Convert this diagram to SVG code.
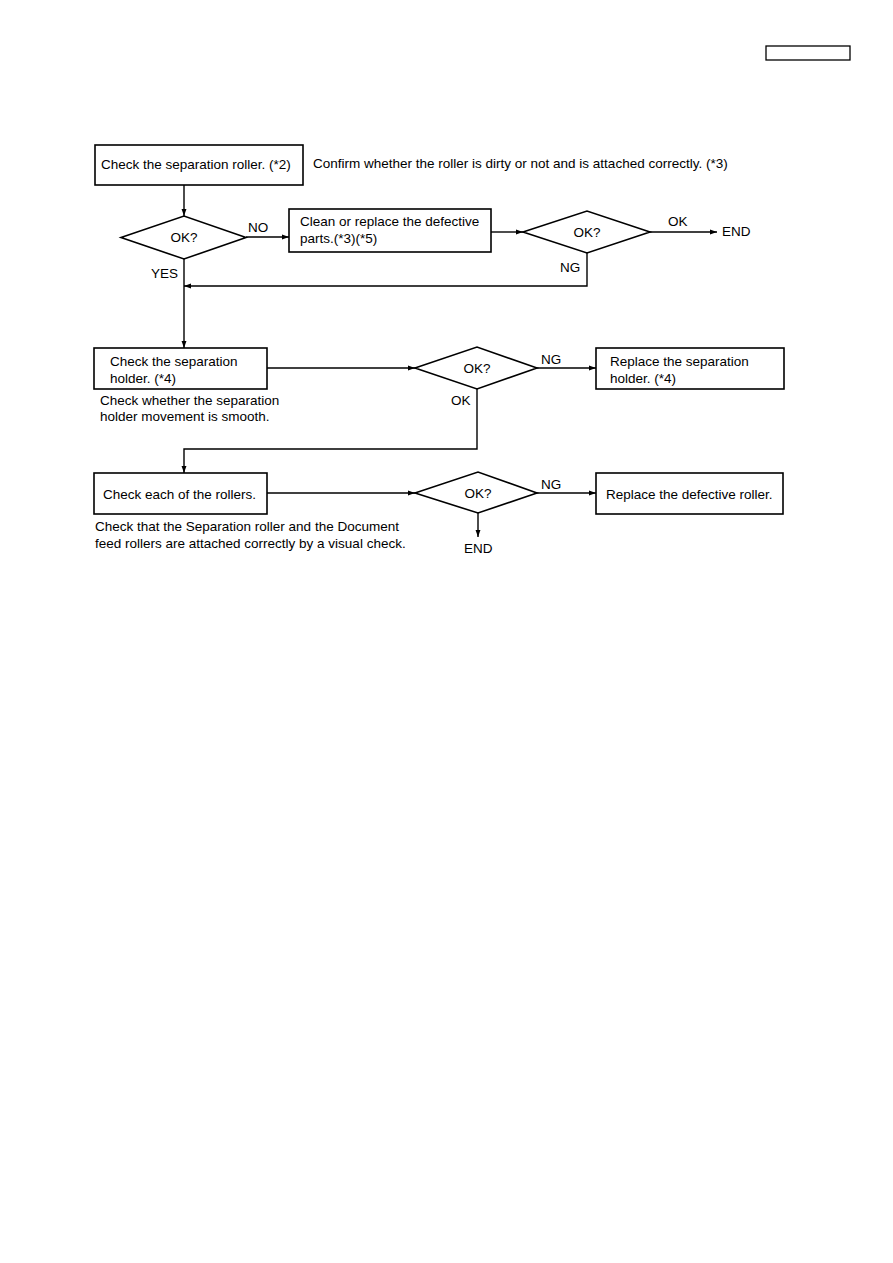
<svg xmlns="http://www.w3.org/2000/svg" width="893" height="1263" viewBox="0 0 893 1263">
<defs>
<style>
.box{fill:#fff;stroke:#000;stroke-width:1.6}
.dia{fill:#fff;stroke:#000;stroke-width:1.6}
.ln{fill:none;stroke:#000;stroke-width:1.4}
text{font-family:"Liberation Sans",Arial,sans-serif;font-size:13.5px;fill:#000}
</style>
<marker id="ah" viewBox="0 0 10 10" refX="10" refY="5" markerWidth="7" markerHeight="7" markerUnits="userSpaceOnUse" orient="auto">
<path d="M0,1.5 L10,5 L0,8.5 Z" fill="#000"/>
</marker>
</defs>
<rect width="893" height="1263" fill="#fff"/>
<rect x="766" y="46" width="84" height="14" fill="none" stroke="#000" stroke-width="1.3"/>

<g id="connectors">
<path class="ln" d="M184,185 V216" marker-end="url(#ah)"/>
<path class="ln" d="M246,237 H289" marker-end="url(#ah)"/>
<path class="ln" d="M491,232 H523" marker-end="url(#ah)"/>
<path class="ln" d="M650,232 H717" marker-end="url(#ah)"/>
<path class="ln" d="M587,253 V286 H184" marker-end="url(#ah)"/>
<path class="ln" d="M184,259 V348" marker-end="url(#ah)"/>
<path class="ln" d="M267,368 H415" marker-end="url(#ah)"/>
<path class="ln" d="M537,368 H596" marker-end="url(#ah)"/>
<path class="ln" d="M477,389 V449 H184 V473" marker-end="url(#ah)"/>
<path class="ln" d="M267,493 H415" marker-end="url(#ah)"/>
<path class="ln" d="M537,493 H596" marker-end="url(#ah)"/>
<path class="ln" d="M478,513 V537" marker-end="url(#ah)"/>
<text x="248" y="232">NO</text>
<text x="151" y="278">YES</text>
<text x="668" y="226">OK</text>
<text x="722" y="236">END</text>
<text x="560" y="272">NG</text>
<text x="541" y="364">NG</text>
<text x="451" y="405">OK</text>
<text x="541" y="489">NG</text>
<text x="464" y="553">END</text>
</g>

<g id="n1">
<rect class="box" x="95" y="145" width="208" height="40"/>
<text x="101" y="169">Check the separation roller. (*2)</text>
</g>
<g id="note1">
<text x="313" y="168">Confirm whether the roller is dirty or not and is attached correctly. (*3)</text>
</g>
<g id="d1">
<polygon class="dia" points="121,237.5 184,216 246,237.5 184,259"/>
<text x="184" y="242" text-anchor="middle">OK?</text>
</g>
<g id="n2">
<rect class="box" x="289" y="209" width="202" height="43"/>
<text x="300" y="226">Clean or replace the defective</text>
<text x="300" y="243">parts.(*3)(*5)</text>
</g>
<g id="d2">
<polygon class="dia" points="523,232 587,211 650,232 587,253"/>
<text x="587" y="237" text-anchor="middle">OK?</text>
</g>
<g id="n3">
<rect class="box" x="94" y="348" width="173" height="41"/>
<text x="110" y="366">Check the separation</text>
<text x="110" y="383">holder. (*4)</text>
</g>
<g id="note3">
<text x="100" y="405">Check whether the separation</text>
<text x="100" y="421">holder movement is smooth.</text>
</g>
<g id="d3">
<polygon class="dia" points="415,368 477,347 537,368 477,389"/>
<text x="477" y="373" text-anchor="middle">OK?</text>
</g>
<g id="n4">
<rect class="box" x="596" y="348" width="188" height="41"/>
<text x="610" y="366">Replace the separation</text>
<text x="610" y="383">holder. (*4)</text>
</g>
<g id="n5">
<rect class="box" x="94" y="473" width="173" height="41"/>
<text x="103" y="499">Check each of the rollers.</text>
</g>
<g id="note5">
<text x="95" y="531">Check that the Separation roller and the Document</text>
<text x="95" y="548">feed rollers are attached correctly by a visual check.</text>
</g>
<g id="d4">
<polygon class="dia" points="415,493 478,472 537,493 478,513"/>
<text x="478" y="498" text-anchor="middle">OK?</text>
</g>
<g id="n6">
<rect class="box" x="596" y="473" width="187" height="41"/>
<text x="606" y="499">Replace the defective roller.</text>
</g>
</svg>
